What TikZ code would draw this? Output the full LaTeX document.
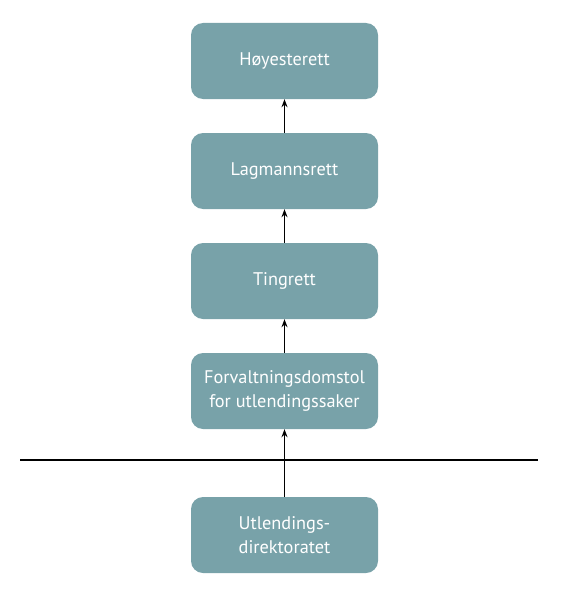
\documentclass[tikz,border=0pt]{standalone}
\usepackage{fontspec}
\setmainfont{PT Sans}
\usetikzlibrary{arrows.meta}
\definecolor{boxfill}{HTML}{78A2A9}
\begin{document}
\begin{tikzpicture}[x=1pt,y=-1pt,
  court/.style={draw=none,fill=boxfill,rounded corners=12pt,minimum width=187pt,minimum height=76pt,
    text=white,align=center,font=\fontsize{18.3}{23.5}\selectfont,inner sep=0pt},
  up/.style={line width=1.1pt,-{Stealth[length=8pt,width=6pt]}}]
\useasboundingbox (0,0) rectangle (560,594);
\node[court] (h) at (284.5,61) {Høyesterett};
\node[court] (l) at (284.5,171) {Lagmannsrett};
\node[court] (t) at (284.5,281) {Tingrett};
\node[court] (f) at (284.5,391) {Forvaltningsdomstol\\for utlendingssaker};
\node[court] (u) at (284.5,535) {Utlendings-\\direktoratet};
\coordinate (la) at (20,460);
\coordinate (lb) at (538,460);
\draw[line width=2pt] (la) -- (lb);
\draw[up] (l.north) -- (h.south);
\draw[up] (t.north) -- (l.south);
\draw[up] (f.north) -- (t.south);
\draw[up] (u.north) -- (f.south);
\end{tikzpicture}
\end{document}
